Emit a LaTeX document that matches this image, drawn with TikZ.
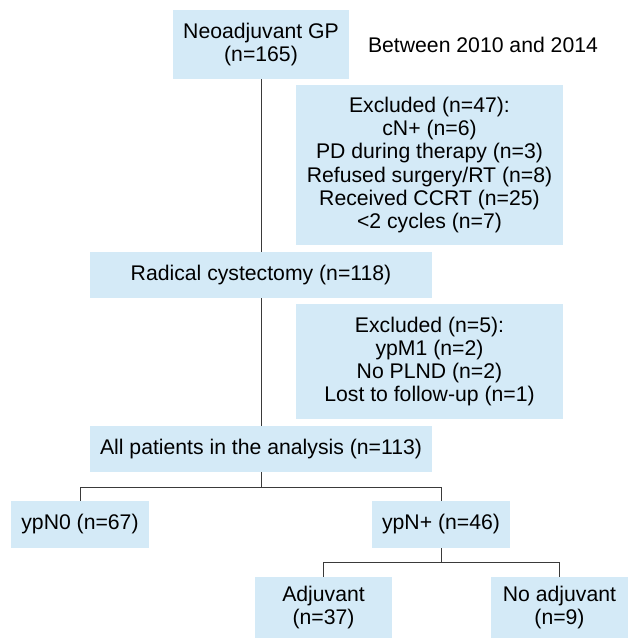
\documentclass[tikz,border=0pt]{standalone}
\usepackage{fontspec}
\setmainfont{Liberation Sans}
\usetikzlibrary{positioning}
\definecolor{boxblue}{HTML}{D4EAF7}
\definecolor{linegray}{HTML}{3A3A3A}
\begin{document}
\begin{tikzpicture}[x=1pt,y=-1pt,
  box/.style={fill=boxblue,inner sep=0pt,align=center,
    font=\fontsize{21.2}{23.3}\selectfont},
  link/.style={draw=linegray,line width=0.9pt}]
\useasboundingbox (0,0) rectangle (630,638);
% main column
\node[box,minimum width=176pt,minimum height=69pt] (gp) at (261,44.5) {Neoadjuvant GP\\(n=165)};
\node[font=\fontsize{21.2}{23.3}\selectfont] (period) at (483,45) {Between 2010 and 2014};
\node[box,minimum width=267pt,minimum height=160pt] (exone) at (429.5,165)
  {Excluded (n=47):\\cN+ (n=6)\\PD during therapy (n=3)\\Refused surgery/RT (n=8)\\Received CCRT (n=25)\\<2 cycles (n=7)};
\node[box,minimum width=342pt,minimum height=46pt] (rc) at (261,275) {Radical cystectomy (n=118)};
\node[box,minimum width=267pt,minimum height=115pt] (extwo) at (429.5,361.5)
  {Excluded (n=5):\\ypM1 (n=2)\\No PLND (n=2)\\Lost to follow-up (n=1)};
\node[box,minimum width=342pt,minimum height=46pt] (all) at (261,449) {All patients in the analysis (n=113)};
% split by nodal status
\node[box,minimum width=138pt,minimum height=47pt] (nzero) at (80,524.5) {ypN0 (n=67)};
\node[box,minimum width=138pt,minimum height=47pt] (nplus) at (441,524.5) {ypN+ (n=46)};
\node[box,minimum width=137pt,minimum height=61pt] (adj) at (323.5,607.5) {Adjuvant\\(n=37)};
\node[box,minimum width=137pt,minimum height=61pt] (noadj) at (559.5,607.5) {No adjuvant\\(n=9)};
\draw[link] (gp.south) -- (rc.north);
\draw[link] (rc.south) -- (all.north);
\draw[link] (all.south) -- ++(0,15) -| (nzero.north);
\draw[link] (all.south) -- ++(0,15) -| (nplus.north);
\draw[link] (nplus.south) -- ++(0,14) -| (adj.north);
\draw[link] (nplus.south) -- ++(0,14) -| (noadj.north);
\end{tikzpicture}
\end{document}
